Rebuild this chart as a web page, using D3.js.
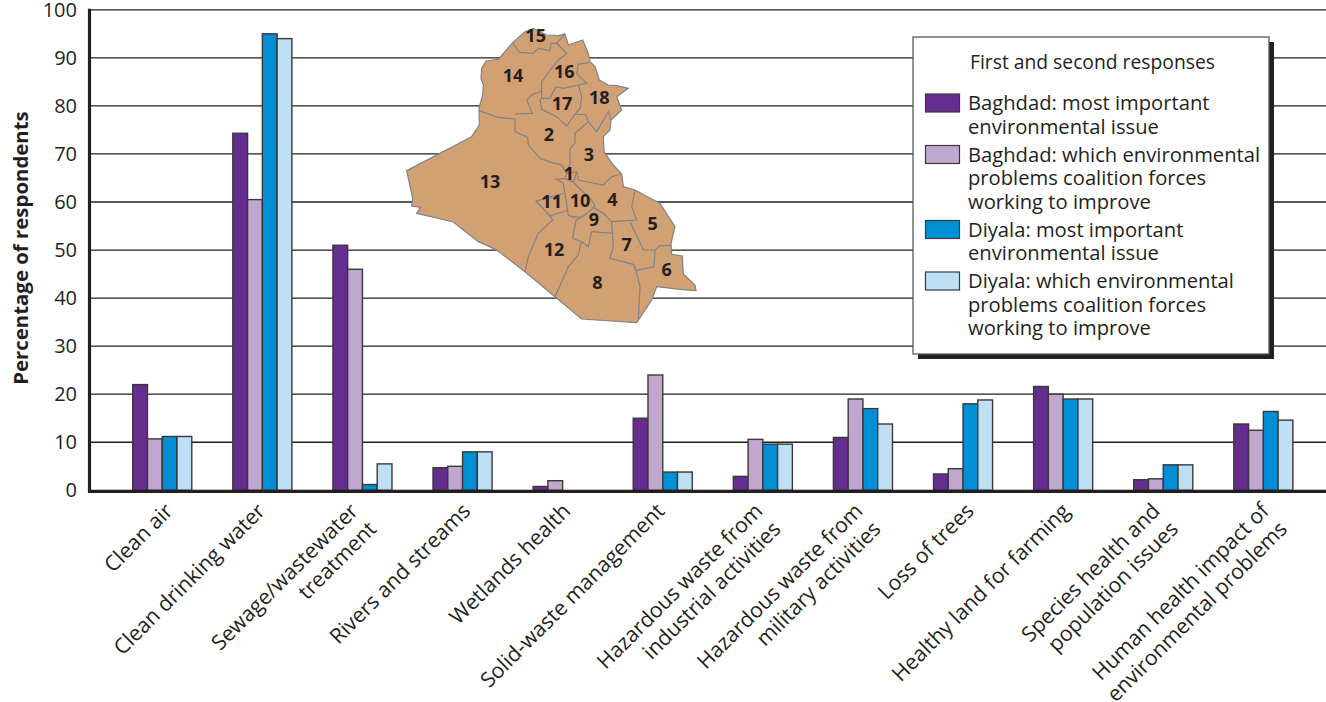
<!DOCTYPE html>
<html><head><meta charset="utf-8">
<script src="https://cdn.jsdelivr.net/npm/d3@7/dist/d3.min.js"></script>
<style>html,body{margin:0;padding:0;background:#fff}svg{display:block}text{font-family:"Open Sans","Noto Sans",sans-serif;fill:#231f20}</style>
</head><body><svg id="c" width="1326" height="702"></svg>
<script>
const categories=[["Clean air"],["Clean drinking water"],["Sewage/wastewater","treatment"],["Rivers and streams"],["Wetlands health"],["Solid-waste management"],["Hazardous waste from","industrial activities"],["Hazardous waste from","military activities"],["Loss of trees"],["Healthy land for farming"],["Species health and","population issues"],["Human health impact of","environmental problems"]];
const baghdadMost=[22,74.3,51,4.7,0.8,15,2.9,11,3.4,21.6,2.2,13.8];
const baghdadCoalition=[10.7,60.5,46,5,2,24,10.6,19,4.5,20,2.4,12.5];
const diyalaMost=[11.2,95,1.2,8,0,3.8,9.6,17,18,19,5.3,16.4];
const diyalaCoalition=[11.2,94,5.5,8,0,3.8,9.6,13.8,18.8,19,5.3,14.6];
const seriesValues=[baghdadMost,baghdadCoalition,diyalaMost,diyalaCoalition];
const seriesColors=["#652d90","#bfa7cf","#008fd5","#bfe0f4"];
const yTicks=[0,10,20,30,40,50,60,70,80,90,100];
const legendTitle="First and second responses";
const legendLabels=[["Baghdad: most important","environmental issue"],["Baghdad: which environmental","problems coalition forces","working to improve"],["Diyala: most important","environmental issue"],["Diyala: which environmental","problems coalition forces","working to improve"]];
const mapOutline=[[375,35],[338,68],[295,118],[258,123],[245,145],[243,175],[250,195],[248,225],[237,265],[238,315],[215,350],[20,452],[38,535],[35,558],[62,562],[50,580],[160,606],[235,665],[290,690],[375,755],[465,830],[545,897],[710,908],[755,840],[770,800],[840,808],[888,812],[885,795],[850,762],[847,708],[815,703],[813,670],[825,620],[780,550],[705,510],[670,500],[665,462],[640,435],[612,395],[610,350],[630,330],[633,300],[665,270],[650,230],[685,205],[650,197],[625,195],[598,180],[585,140],[570,125],[565,100],[548,60],[505,75],[495,42],[475,47],[440,45],[400,25]];
const mapBorders=[
[[238,272],[295,292],[345,297],[345,335],[383,352],[385,375],[420,415],[455,428],[485,435],[500,460]],
[[345,282],[397,280],[380,240],[395,225],[425,213]],
[[338,68],[358,97],[400,100],[415,85],[450,92],[453,70],[470,70],[500,100],[470,125],[425,185],[425,235],[450,235],[468,200],[490,205],[535,195],[560,190],[530,160],[535,133],[568,127]],
[[470,70],[495,42]],
[[425,235],[420,240],[425,268],[470,290],[500,318],[525,282],[540,265],[545,230],[535,195]],
[[525,282],[558,285],[565,305],[590,335],[625,275],[633,300]],
[[565,305],[525,340],[525,370],[510,385],[510,430],[500,460],[530,455],[535,480],[610,495],[635,470],[665,462]],
[[500,460],[495,475],[520,487],[530,455]],
[[495,475],[468,478],[490,490],[505,585],[525,595]],
[[520,487],[528,495],[575,540],[585,560],[545,592],[510,588]],
[[575,560],[610,580],[635,605],[640,680],[630,715],[700,733],[708,752],[720,800],[715,900]],
[[705,510],[695,560],[710,600],[635,605]],
[[690,605],[730,690],[765,690],[780,677],[813,677]],
[[765,690],[762,740],[708,752]],
[[640,640],[575,635],[565,680],[545,665],[518,655],[528,600],[545,592]],
[[490,520],[408,543],[450,588],[505,570]],
[[450,588],[458,600],[415,640],[385,710],[375,755]],
[[543,665],[535,705],[505,740],[465,830]]
];
const mapLabels=[["1",507,462],["2",447,345],["3",567,405],["4",637,538],["5",758,612],["6",800,750],["7",680,675],["8",592,787],["9",582,600],["10",540,541],["11",455,544],["12",462,690],["13",270,484],["14",339,168],["15",407,46],["16",493,156],["17",486,252],["18",598,234]];
const labelShift=[12,4,-3,9,9,3,1,1,12,8,-2,7];

const svg=d3.select("#c");
const y=d3.scaleLinear().domain([0,100]).range([490.3,9.8]);
const x=d3.scaleBand().domain(d3.range(categories.length)).range([112.2,1313.4]).paddingInner(0.41).paddingOuter(0.205);
const x1=d3.scaleBand().domain(d3.range(4)).range([0,x.bandwidth()]);
const mx=d3.scaleLinear().domain([0,930]).range([400,710]);
const my=d3.scaleLinear().domain([0,930]).range([20,330]);

// gridlines + y axis
const yAxis=d3.axisLeft(y).tickValues(yTicks).tickSize(0).tickPadding(12);
const ga=svg.append("g").attr("transform","translate(89,0)").call(yAxis);
ga.select(".domain").remove();
ga.selectAll("text").attr("font-size",20).style("font-family",'"Open Sans"').style("fill","#231f20");
svg.append("g").selectAll("line").data(yTicks.filter(d=>d>0)).join("line")
 .attr("x1",89).attr("x2",1326).attr("y1",d=>y(d)).attr("y2",d=>y(d)).attr("stroke","#231f20").attr("stroke-width",1.3);
svg.append("text").attr("transform",`translate(28,${y(50)-2}) rotate(-90)`).attr("text-anchor","middle")
 .attr("font-size",20.4).attr("font-weight",700).text("Percentage of respondents");

// map
const line=d3.line().x(d=>mx(d[0])).y(d=>my(d[1]));
const gm=svg.append("g");
gm.append("path").attr("d",line(mapOutline)+"Z").attr("fill","#d2a173").attr("stroke","#808285").attr("stroke-width",1.2);
gm.selectAll(".b").data(mapBorders).join("path").attr("class","b").attr("d",line).attr("fill","none").attr("stroke","#808285").attr("stroke-width",1.2);
gm.selectAll("text").data(mapLabels).join("text").attr("x",d=>mx(d[1])).attr("y",d=>my(d[2])).attr("dy","0.36em")
 .attr("text-anchor","middle").attr("font-size",18).attr("font-weight",700).text(d=>d[0]);

// bars
const groups=svg.append("g").selectAll("g").data(categories).join("g").attr("transform",(d,i)=>`translate(${x(i)},0)`);
groups.each(function(d,i){
 d3.select(this).selectAll("rect").data(seriesValues.map((s,k)=>({k,v:s[i]})).filter(e=>e.v>0)).join("rect")
  .attr("x",e=>x1(e.k)).attr("width",x1.bandwidth()).attr("y",e=>y(e.v)).attr("height",e=>y(0)-y(e.v))
  .attr("fill",e=>seriesColors[e.k]).attr("stroke","#3a383a").attr("stroke-width",1.4);
});
// baseline
svg.append("line").attr("x1",88).attr("x2",1326).attr("y1",y(0)+1).attr("y2",y(0)+1).attr("stroke","#231f20").attr("stroke-width",3.2);
svg.append("line").attr("x1",89.5).attr("x2",89.5).attr("y1",y(100)-1).attr("y2",y(0)+2).attr("stroke","#231f20").attr("stroke-width",3.2);

// category labels
const lab=svg.append("g").selectAll("text").data(categories).join("text")
 .attr("transform",(d,i)=>`translate(${x(i)+x.bandwidth()/2+labelShift[i]},${y(0)+22}) rotate(-45)`)
 .attr("text-anchor","end").attr("font-size",21.2);
lab.each(function(d){
 const t=d3.select(this);
 d.forEach((s,i)=>t.append("tspan").attr("x",0).attr("y",i*25.5).text(s));
});

// legend
const lg=svg.append("g");
lg.append("rect").attr("x",918).attr("y",42).attr("width",356).attr("height",317).attr("fill","#231f20");
lg.append("rect").attr("x",913).attr("y",37).attr("width",356).attr("height",317).attr("fill","#fff").attr("stroke","#58595b").attr("stroke-width",1.3);
lg.append("text").attr("x",970).attr("y",69).attr("font-size",19.3).text(legendTitle);
let ly=110;
legendLabels.forEach((lines,k)=>{
 lg.append("rect").attr("x",925.5).attr("y",ly-16).attr("width",34).attr("height",18).attr("fill",seriesColors[k]).attr("stroke","#3a383a").attr("stroke-width",1.2);
 lines.forEach((s,i)=>lg.append("text").attr("x",968).attr("y",ly+i*23.5).attr("font-size",20.2).text(s));
 ly+=lines.length*23.5+4.5;
});
</script></body></html>
